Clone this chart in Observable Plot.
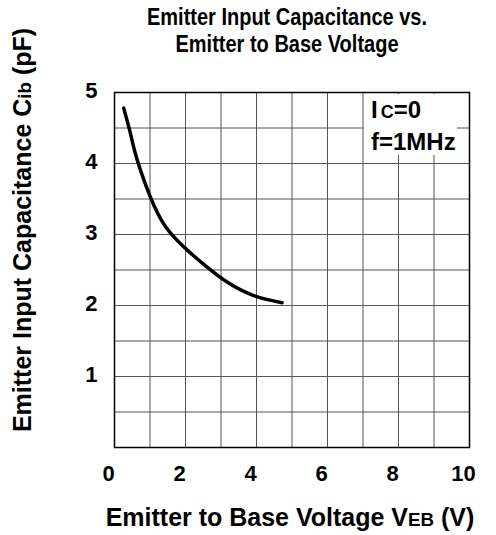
<!DOCTYPE html>
<html>
<head>
<meta charset="utf-8">
<script src="https://cdn.jsdelivr.net/npm/d3@7"></script>
<script src="https://cdn.jsdelivr.net/npm/@observablehq/plot@0.6"></script>
<style>
  html, body { margin: 0; padding: 0; background: #fff; overflow: hidden; }
  #wrap { position: relative; width: 496px; height: 535px; font-family: "Liberation Sans", Arial, sans-serif; font-weight: bold; color: #000; }
  #wrap svg { position: absolute; left: 0; top: 0; }
  .title { position: absolute; left: 137px; top: 3px; width: 300px; text-align: center; font-size: 20px; line-height: 24.4px; white-space: nowrap; transform: scaleY(1.15); transform-origin: 50% 0; }
  .xtitle { position: absolute; left: 40px; top: 505px; width: 500px; text-align: center; font-size: 25px; line-height: 25px; white-space: nowrap; }
  .ytitle { position: absolute; left: 23px; top: 230px; transform: translate(-50%, -50%) rotate(-90deg); font-size: 25px; line-height: 25px; white-space: nowrap; }
  .legend { position: absolute; left: 364px; top: 94px; width: 93px; height: 61px; background: #fff; box-sizing: border-box; padding: 1px 0 0 7px; font-size: 24px; line-height: 29px; white-space: nowrap; }
  .sc { font-size: 0.75em; }
</style>
</head>
<body>
<div id="wrap">
  <div class="title">Emitter Input Capacitance vs.<br>Emitter to Base Voltage</div>
</div>
<script>
// Emitter-to-base voltage VEB (V) and input capacitance Cib (pF)
const veb = [0.26, 0.45, 0.64, 1.01, 1.44, 2.05, 2.61, 3.17, 3.92, 4.72];
const cib = [4.78, 4.42, 4.05, 3.53, 3.11, 2.78, 2.54, 2.33, 2.14, 2.04];

const xTicks = [0, 2, 4, 6, 8, 10];
const yTicks = [1, 2, 3, 4, 5];
const xGrid = d3.range(0, 11, 1);
const yGrid = d3.range(0, 5.01, 0.5);

const data = veb.map((v, i) => ({v, c: cib[i]}));

const chart = Plot.plot({
  width: 496,
  height: 535,
  marginLeft: 114,
  marginRight: 27,
  marginTop: 92,
  marginBottom: 88,
  style: {fontFamily: '"Liberation Sans", Arial, sans-serif', fontWeight: "bold", fontSize: "22px", color: "#000", background: "transparent"},
  x: {domain: [0, 10]},
  y: {domain: [0, 5]},
  marks: [
    Plot.gridX(xGrid, {stroke: "#555", strokeOpacity: 1, strokeWidth: 1}),
    Plot.gridY(yGrid, {stroke: "#555", strokeOpacity: 1, strokeWidth: 1}),
    Plot.frame({stroke: "#000", strokeWidth: 1.5}),
    Plot.line(data, {x: "v", y: "c", curve: "natural", stroke: "#000", strokeWidth: 3.5}),
    Plot.axisX(xTicks, {tickSize: 0, tickPadding: 18, dx: -6, label: null, fill: "#000", fontSize: 22, fontWeight: "bold", tickFormat: d3.format("d")}),
    Plot.axisY(yTicks, {tickSize: 0, tickPadding: 17, dy: -2, label: null, fill: "#000", fontSize: 22, fontWeight: "bold", tickFormat: d3.format("d")})
  ]
});

const wrap = document.getElementById("wrap");
wrap.insertBefore(chart, wrap.firstChild);

const xt = document.createElement("div");
xt.className = "xtitle";
xt.innerHTML = 'Emitter to Base Voltage V<span class="sc">EB</span> (V)';
wrap.appendChild(xt);

const yt = document.createElement("div");
yt.className = "ytitle";
yt.innerHTML = 'Emitter Input Capacitance C<span class="sc">ib</span> (pF)';
wrap.appendChild(yt);

const lg = document.createElement("div");
lg.className = "legend";
lg.innerHTML = 'I<span class="sc" style="margin-left:3px">C</span>=0<br>f=1MHz';
wrap.appendChild(lg);
</script>
</body>
</html>
